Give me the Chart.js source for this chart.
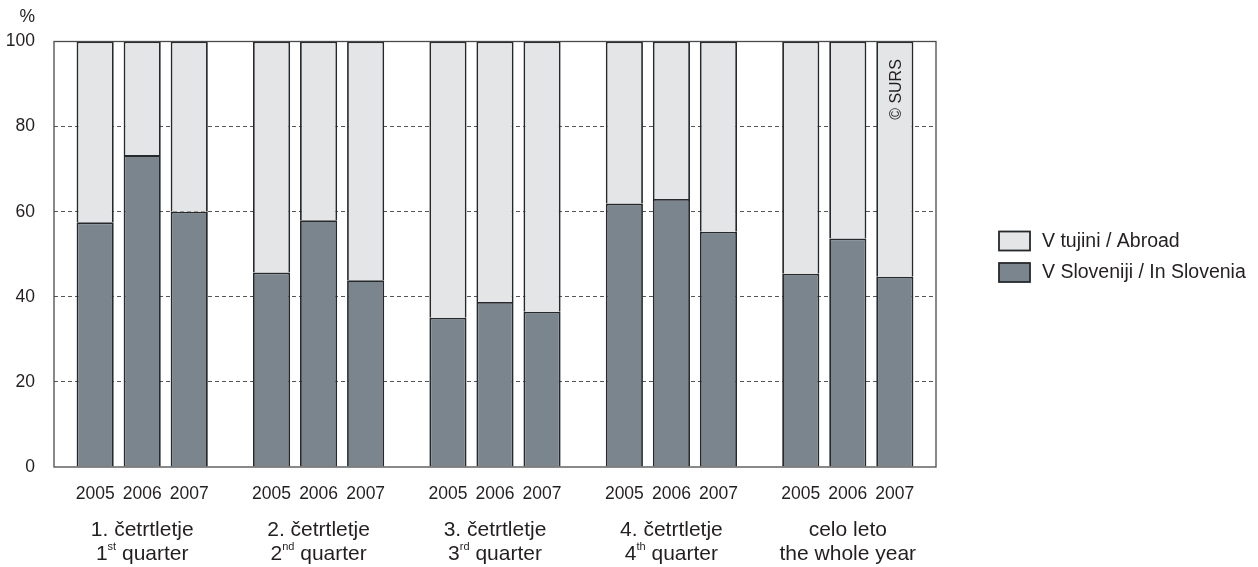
<!DOCTYPE html>
<html>
<head>
<meta charset="utf-8">
<script src="https://cdn.jsdelivr.net/npm/chart.js@4"></script>
<style>
  html, body { margin: 0; padding: 0; background: #ffffff; }
  #wrap { width: 1258px; height: 567px; position: relative; }
</style>
</head>
<body>
<div id="wrap"><canvas id="c" width="1258" height="567"></canvas></div>
<script>
// ---- data ----
const categoriesSl = ['1. četrtletje', '2. četrtletje', '3. četrtletje', '4. četrtletje', 'celo leto'];
const categoriesEnNum = ['1', '2', '3', '4', ''];
const categoriesEnSup = ['st', 'nd', 'rd', 'th', ''];
const categoriesEnRest = [' quarter', ' quarter', ' quarter', ' quarter', 'the whole year'];
const years = ['2005', '2006', '2007'];
const seriesNames = ['V tujini / Abroad', 'V Sloveniji / In Slovenia'];

const slovenia2005 = [57.5, 45.7, 35.1, 61.9, 45.4];
const slovenia2006 = [73.3, 58.0, 38.8, 63.0, 53.7];
const slovenia2007 = [60.0, 43.9, 36.5, 55.3, 44.7];
const abroad2005 = [42.5, 54.3, 64.9, 38.1, 54.6];
const abroad2006 = [26.7, 42.0, 61.2, 37.0, 46.3];
const abroad2007 = [40.0, 56.1, 63.5, 44.7, 55.3];

const yTicks = [0, 20, 40, 60, 80, 100];

// ---- styles ----
const FONT = '"Liberation Sans", Arial, sans-serif';
const colAbroad = '#e4e5e7';
const colSlovenia = '#7b858d';
const colBorder = '#26292c';
const textCol = '#231f20';

const sloByYear = [slovenia2005, slovenia2006, slovenia2007];
const abrByYear = [abroad2005, abroad2006, abroad2007];

const datasets = [];
years.forEach((y, k) => {
  datasets.push({
    label: seriesNames[1] + ' ' + y, data: sloByYear[k], stack: y,
    backgroundColor: colSlovenia, borderColor: colBorder, borderWidth: 1.8,
    categoryPercentage: 0.8, barPercentage: 0.79
  });
  datasets.push({
    label: seriesNames[0] + ' ' + y, data: abrByYear[k], stack: y,
    backgroundColor: colAbroad, borderColor: colBorder, borderWidth: 1.8,
    categoryPercentage: 0.8, barPercentage: 0.79
  });
});

const textPlugin = {
  id: 'textPlugin',
  afterDraw(chart) {
    const ctx = chart.ctx;
    const a = chart.chartArea;
    const xs = chart.scales.x;
    ctx.save();
    // frame
    ctx.strokeStyle = '#4a4a4a';
    ctx.lineWidth = 1.3;
    ctx.strokeRect(a.left, a.top, a.right - a.left, a.bottom - a.top);

    ctx.fillStyle = textCol;
    // % label
    ctx.font = '17.5px ' + FONT;
    ctx.textAlign = 'right';
    ctx.textBaseline = 'middle';
    ctx.fillText('%', 35, 17);

    // year labels under each bar
    ctx.textAlign = 'center';
    ctx.textBaseline = 'alphabetic';
    years.forEach((y, k) => {
      const meta = chart.getDatasetMeta(k * 2);
      meta.data.forEach(el => ctx.fillText(y, el.x, a.bottom + 32));
    });

    // category labels
    categoriesSl.forEach((lab, i) => {
      const cx = xs.getPixelForValue(i);
      ctx.font = '21px ' + FONT;
      ctx.textAlign = 'center';
      ctx.fillText(lab, cx, a.bottom + 69);
      // second line with superscript
      const num = categoriesEnNum[i], sup = categoriesEnSup[i], rest = categoriesEnRest[i];
      ctx.font = '21px ' + FONT;
      const wNum = ctx.measureText(num).width;
      const wRest = ctx.measureText(rest).width;
      ctx.font = '11px ' + FONT;
      const wSup = ctx.measureText(sup).width;
      const total = wNum + wSup + wRest;
      let x = cx - total / 2;
      const base = a.bottom + 93;
      ctx.textAlign = 'left';
      ctx.font = '21px ' + FONT;
      ctx.fillText(num, x, base); x += wNum;
      ctx.font = '11px ' + FONT;
      ctx.fillText(sup, x, base - 10); x += wSup;
      ctx.font = '21px ' + FONT;
      ctx.fillText(rest, x, base);
    });

    // © SURS rotated inside last bar
    const lastMeta = chart.getDatasetMeta(5);
    const el = lastMeta.data[lastMeta.data.length - 1];
    ctx.save();
    ctx.translate(el.x + 2, a.top + 48);
    ctx.rotate(-Math.PI / 2);
    ctx.font = '16px ' + FONT;
    ctx.textAlign = 'center';
    ctx.textBaseline = 'middle';
    ctx.fillText('© SURS', 0, 0);
    ctx.restore();

    // legend
    const legendItems = [
      { text: seriesNames[0], fill: colAbroad },
      { text: seriesNames[1], fill: colSlovenia }
    ];
    legendItems.forEach((it, j) => {
      const by = 231.5 + j * 31.5;
      ctx.fillStyle = it.fill;
      ctx.fillRect(999, by, 31, 19);
      ctx.strokeStyle = colBorder;
      ctx.lineWidth = 1.8;
      ctx.strokeRect(999, by, 31, 19);
      ctx.fillStyle = textCol;
      ctx.font = '19.5px ' + FONT;
      ctx.textAlign = 'left';
      ctx.textBaseline = 'middle';
      ctx.fillText(it.text, 1042, by + 10);
    });
    ctx.restore();
  }
};

new Chart(document.getElementById('c'), {
  type: 'bar',
  data: { labels: categoriesSl, datasets: datasets },
  options: {
    responsive: false,
    animation: false,
    events: [],
    layout: { padding: { top: 41.5, bottom: 100, left: 0, right: 322 } },
    plugins: { legend: { display: false }, tooltip: { enabled: false } },
    scales: {
      x: {
        display: false,
        stacked: true,
        grid: { display: false }
      },
      y: {
        stacked: true,
        min: 0, max: 100,
        afterFit(scale) { scale.width = 54; },
        afterBuildTicks(scale) { scale.ticks = yTicks.map(v => ({ value: v })); },
        ticks: {
          padding: 19,
          color: textCol,
          font: { family: FONT, size: 17.5 },
          stepSize: 20
        },
        grid: {
          drawTicks: false,
          color: (c) => (c.tick && (c.tick.value === 0 || c.tick.value === 100)) ? 'rgba(0,0,0,0)' : '#555555',
          lineWidth: 1
        },
        border: { display: false, dash: [4, 3] }
      }
    }
  },
  plugins: [textPlugin]
});
</script>
</body>
</html>
